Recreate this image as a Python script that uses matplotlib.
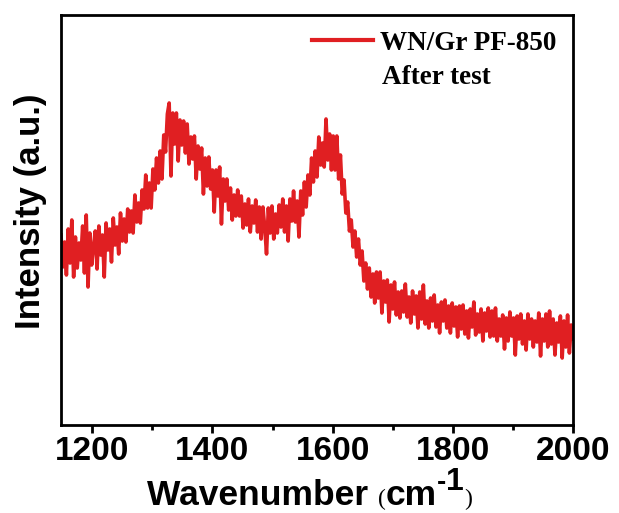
import numpy as np
import matplotlib
matplotlib.use("Agg")
import matplotlib.pyplot as plt

# Intensity (arbitrary units), one value every 3 cm^-1 from 1148 cm^-1
intensity = [
    # 1148-1199
    190, 158, 183, 150, 196, 162, 205, 148, 188, 157, 182, 165, 199, 152, 210, 138, 192, 160,
    # 1202-1250
    178, 194, 156, 199, 170, 190, 148, 202, 175, 196, 163, 207, 180, 198, 171, 212, 184,
    # 1253-1301
    206, 183, 216, 193, 214, 192, 230, 203, 222, 202, 235, 216, 250, 217, 242, 217, 256,
    # 1304-1352
    235, 267, 242, 274, 246, 290, 273, 311, 322, 249, 312, 281, 312, 264, 305, 280, 304,
    # 1355-1403
    272, 301, 261, 288, 266, 289, 246, 279, 256, 277, 231, 267, 239, 268, 236, 255, 213,
    # 1406-1454
    255, 229, 258, 201, 246, 224, 246, 215, 237, 205, 230, 209, 235, 209, 229, 197, 221,
    # 1457-1505
    200, 226, 193, 219, 202, 225, 193, 218, 186, 218, 198, 171, 217, 192, 219, 186, 211,
    # 1508-1556
    192, 220, 198, 226, 193, 219, 184, 226, 204, 234, 203, 224, 188, 234, 210, 243, 218,
    # 1559-1607
    250, 230, 267, 243, 274, 248, 288, 260, 282, 258, 306, 265, 291, 255, 289, 255, 289,
    # 1610-1658
    246, 270, 231, 245, 212, 223, 194, 205, 178, 194, 168, 186, 160, 174, 144, 162, 136,
    # 1661-1709
    157, 128, 151, 122, 153, 127, 153, 112, 144, 123, 145, 103, 140, 116, 143, 110, 133,
    # 1712-1760
    107, 134, 113, 141, 108, 128, 102, 134, 111, 129, 97, 133, 106, 140, 101, 124, 97,
    # 1763-1811
    127, 104, 130, 98, 120, 92, 123, 104, 125, 97, 119, 92, 122, 99, 118, 88, 119,
    # 1814-1862
    96, 120, 91, 114, 87, 116, 98, 123, 90, 111, 93, 116, 84, 112, 94, 117, 88,
    # 1865-1913
    114, 89, 117, 84, 106, 89, 110, 76, 107, 84, 113, 89, 107, 70, 109, 86, 111,
    # 1916-1964
    81, 104, 75, 111, 86, 106, 78, 104, 83, 112, 69, 106, 84, 111, 78, 114, 81,
    # 1967-2000
    106, 70, 102, 83, 109, 67, 104, 78, 110, 72, 100, 86,
]
wavenumber = np.arange(1148, 1148 + 3 * len(intensity), 3)

series_label = "WN/Gr PF-850"
note_text = "After test"
x_ticks = [1200, 1400, 1600, 1800, 2000]
x_minor = [1300, 1500, 1700, 1900]

W, H = 619, 513
fig = plt.figure(figsize=(W / 100, H / 100), dpi=100)
ax = fig.add_axes([61 / W, 1 - 425 / H, 512 / W, 410 / H])

color = "#e01f22"
ax.plot(wavenumber, intensity, color=color, lw=2.6, label=series_label)

ax.set_xlim(1148, 2000)
ax.set_ylim(0, 410)

ax.set_xticks(x_ticks)
ax.set_xticks(x_minor, minor=True)
ax.set_yticks([])
ax.tick_params(axis="x", which="major", direction="out", length=6, width=2, pad=2,
               labelsize=24, top=False)
ax.tick_params(axis="x", which="minor", direction="out", length=3.5, width=2, top=False)
for lab in ax.get_xticklabels():
    lab.set_fontfamily("Liberation Sans")
    lab.set_fontweight("bold")

for s in ax.spines.values():
    s.set_linewidth(2)

ax.set_ylabel("Intensity (a.u.)", fontsize=25, fontweight="bold",
              family="Liberation Sans")
ax.yaxis.set_label_coords(-0.027, 0.522)

# x-axis label built from pieces sharing one baseline
renderer = fig.canvas.get_renderer()
base_y = (H - 505) / H
pieces = [
    ("Wavenumber ", dict(family="Liberation Sans", weight="bold", size=25.5), 0),
    ("(", dict(family="Liberation Serif", weight="normal", size=17), 0),
    ("cm", dict(family="Liberation Sans", weight="bold", size=25.5), 0),
    ("-", dict(family="Liberation Sans", weight="bold", size=20), 15),
    ("1", dict(family="Liberation Sans", weight="bold", size=23), 15),
    (")", dict(family="Liberation Serif", weight="normal", size=17), 0),
]
cur_x = 147 / W
for txt, props, rise in pieces:
    t = fig.text(cur_x, base_y + rise / H, txt, ha="left", va="baseline", **props)
    bb = t.get_window_extent(renderer)
    cur_x = bb.x1 / W

leg = ax.legend(loc="upper left", bbox_to_anchor=(0.49, 0.962), frameon=False,
                prop={"family": "Liberation Serif", "weight": "bold", "size": 19.5},
                handlelength=2.25, handletextpad=0.25, borderpad=0, borderaxespad=0)
for h in leg.get_lines():
    h.set_linewidth(3)
ax.text(0.626, 0.848, note_text, transform=ax.transAxes, ha="left", va="center",
        family="Liberation Serif", fontweight="bold", fontsize=19.5)

fig.savefig("out.png", dpi=100)
